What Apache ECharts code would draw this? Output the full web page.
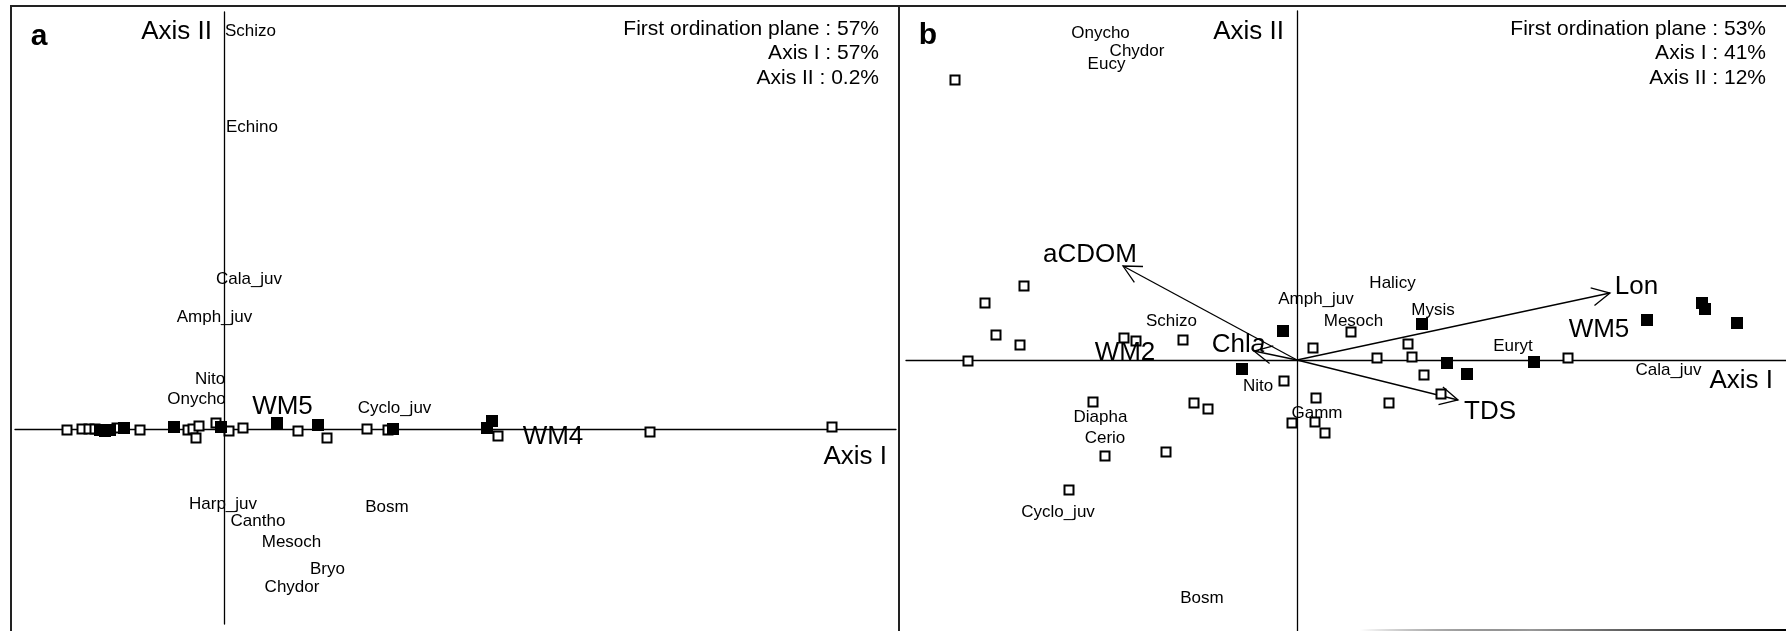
<!DOCTYPE html>
<html><head><meta charset="utf-8">
<script src="https://cdn.jsdelivr.net/npm/echarts@6/dist/echarts.min.js"></script>
<style>html,body{margin:0;padding:0;background:#fff}#c{width:1786px;height:631px}</style>
</head><body><div id="c"></div>
<script>
// ---------- Panel a (CA scores) ----------
const aOpen = [[-1.57,-0.01],[-1.42,0.00],[-1.35,0.00],[-1.29,0.00],[-1.07,0.01],[-0.84,-0.01],[-0.36,-0.01],[-0.31,0.00],[-0.25,0.03],[-0.28,-0.09],[-0.08,0.06],[0.05,-0.02],[0.19,0.01],[0.74,-0.02],[1.03,-0.09],[1.43,0.00],[1.64,-0.01],[2.74,-0.07],[4.26,-0.03],[6.08,0.02]];
const aFilled = [[-1.24,-0.01],[-1.19,-0.02],[-1.14,-0.01],[-1.00,0.01],[-0.50,0.02],[-0.03,0.02],[0.53,0.06],[0.94,0.04],[1.69,0.00],[2.63,0.01],[2.68,0.08]];
const aSpecies = ['Schizo','Echino','Cala_juv','Amph_juv','Nito','Onycho','Cyclo_juv','Harp_juv','Cantho','Mesoch','Bryo','Chydor','Bosm'];
const aSpeciesXY = [[0.265,3.98],[0.28,3.02],[0.25,1.50],[-0.095,1.12],[-0.14,0.50],[-0.275,0.30],[1.705,0.21],[-0.01,-0.75],[0.34,-0.92],[0.675,-1.13],[1.035,-1.40],[0.68,-1.58],[1.63,-0.78]];
const aGroups = ['WM5','WM4'];
const aGroupsXY = [[0.585,0.22],[3.29,-0.08]];
const aInfo = ['First ordination plane : 57%','Axis I : 57%','Axis II : 0.2%'];

// ---------- Panel b (CCA scores) ----------
const bOpen = [[-3.42,2.80],[-2.73,0.74],[-3.12,0.57],[-3.01,0.25],[-2.77,0.15],[-3.29,-0.01],[-1.73,0.22],[-1.61,0.19],[-1.14,0.20],[-2.04,-0.42],[-1.92,-0.96],[-1.03,-0.43],[-0.89,-0.49],[-1.31,-0.92],[-2.28,-1.30],[-0.13,-0.21],[0.19,-0.38],[-0.05,-0.63],[0.18,-0.62],[0.28,-0.73],[0.16,0.12],[0.54,0.28],[0.80,0.02],[1.11,0.16],[1.15,0.03],[1.27,-0.15],[0.92,-0.43],[1.44,-0.34],[2.71,0.02]];
const bFilled = [[-0.14,0.29],[-0.55,-0.09],[1.25,0.36],[1.50,-0.03],[1.70,-0.14],[2.37,-0.02],[3.50,0.40],[4.05,0.57],[4.08,0.51],[4.40,0.37]];
const bSpecies = ['Onycho','Chydor','Eucy','Schizo','Nito','Diapha','Cerio','Cyclo_juv','Bosm','Amph_juv','Halicy','Mesoch','Mysis','Gamm','Euryt','Cala_juv'];
const bSpeciesXY = [[-1.965,3.27],[-1.60,3.09],[-1.905,2.96],[-1.255,0.39],[-0.39,-0.26],[-1.965,-0.57],[-1.92,-0.78],[-2.39,-1.52],[-0.95,-2.38],[0.19,0.61],[0.955,0.77],[0.565,0.39],[1.36,0.50],[0.20,-0.53],[2.16,0.14],[3.715,-0.10]];
const bGroups = ['WM2','WM5'];
const bGroupsXY = [[-1.72,0.07],[3.02,0.30]];
const bVars = ['aCDOM','Chla','Lon','TDS'];
const bVarsXY = [[-1.74,0.94],[-0.43,0.09],[3.13,0.67],[1.61,-0.40]];
const bVarLabelXY = [[-2.07,1.05],[-0.585,0.15],[3.395,0.73],[1.93,-0.52]];
const bInfo = ['First ordination plane : 53%','Axis I : 41%','Axis II : 12%'];

const FONT = '"Liberation Sans", Arial, Helvetica, sans-serif';
const chart = echarts.init(document.getElementById('c'), null, {renderer:'canvas'});

function axisX(gi, min, max, name, gap, padTop){
  return {gridIndex:gi, type:'value', min:min, max:max, splitLine:{show:false},
    axisTick:{show:false}, axisLabel:{show:false},
    axisLine:{show:true, onZero:true, lineStyle:{color:'#000', width:1.3}},
    name:name, nameLocation:'end', nameGap:gap,
    nameTextStyle:{fontFamily:FONT, fontSize:26, color:'#000', align:'right', verticalAlign:'top', padding:[padTop,0,0,0]}};
}
function axisY(gi, min, max, name, gap, padRight){
  return {gridIndex:gi, type:'value', min:min, max:max, splitLine:{show:false},
    axisTick:{show:false}, axisLabel:{show:false},
    axisLine:{show:true, onZero:true, lineStyle:{color:'#000', width:1.3}},
    name:name, nameLocation:'end', nameGap:gap,
    nameTextStyle:{fontFamily:FONT, fontSize:26, color:'#000', align:'right', verticalAlign:'middle', padding:[0,padRight,0,0]}};
}
function squares(gi, data, filled){
  return {type:'scatter', xAxisIndex:gi, yAxisIndex:gi, data:data, symbol:'rect',
    symbolSize: filled ? 12 : 9, z: filled ? 4 : 3,
    itemStyle: filled ? {color:'#000', opacity:1} : {color:'#fff', borderColor:'#000', borderWidth:2, opacity:1},
    silent:true};
}
function labels(gi, names, xy, size){
  return {type:'scatter', xAxisIndex:gi, yAxisIndex:gi, symbol:'circle', symbolSize:1, z:5,
    itemStyle:{color:'rgba(0,0,0,0)', opacity:1},
    data: names.map((n,i)=>({name:n, value:xy[i]})),
    label:{show:true, position:'inside', color:'#000', opacity:1, fontFamily:FONT, fontSize:size,
      formatter: p => (p.name === 'Chla' ? '{n|Chl}{i|a}' : p.name),
      rich: {n:{fontFamily:FONT, fontSize:size, color:'#000'}, i:{fontFamily:FONT, fontSize:size, fontStyle:'italic', color:'#000'}}},
    silent:true};
}

const arrowSeries = {
  type:'custom', xAxisIndex:1, yAxisIndex:1, z:2, data:bVarsXY,
  renderItem(params, api){
    const o = api.coord([0,0]);
    const t = api.coord([api.value(0), api.value(1)]);
    const dx = o[0]-t[0], dy = o[1]-t[1];
    const L = Math.hypot(dx,dy), ux = dx/L, uy = dy/L;
    const len = 20, ang = 27*Math.PI/180, c = Math.cos(ang), s = Math.sin(ang);
    const h1 = [t[0]+len*(ux*c - uy*s), t[1]+len*(ux*s + uy*c)];
    const h2 = [t[0]+len*(ux*c + uy*s), t[1]+len*(-ux*s + uy*c)];
    return {type:'group', children:[
      {type:'line', shape:{x1:o[0],y1:o[1],x2:t[0],y2:t[1]}, style:{stroke:'#000', lineWidth:1.3}},
      {type:'polyline', shape:{points:[h1,t,h2]}, style:{stroke:'#000', fill:null, lineWidth:1.3}}
    ]};
  }
};

function infoText(lines, right){
  return lines.map((t,i)=>({type:'text', z:10, x:right, y:29+i*24.5,
    style:{text:t, fontFamily:FONT, fontSize:21, fill:'#000', align:'right', verticalAlign:'middle'}}));
}

const option = {
  animation:false,
  backgroundColor:'#fff',
  grid:[{left:15, top:12, width:881, height:612}, {left:906, top:11, width:880, height:620}],
  xAxis:[axisX(0,-2.09,6.72,'Axis I',-9,15), axisX(1,-3.91,4.89,'Axis I',-13,8)],
  yAxis:[axisY(0,-1.95,4.17,'Axis II',-20,12), axisY(1,-2.71,3.49,'Axis II',-21,13)],
  series:[
    squares(0, aOpen, false), squares(0, aFilled, true),
    labels(0, aSpecies, aSpeciesXY, 17), labels(0, aGroups, aGroupsXY, 26),
    arrowSeries,
    squares(1, bOpen, false), squares(1, bFilled, true),
    labels(1, bSpecies, bSpeciesXY, 17), labels(1, bGroups, bGroupsXY, 26),
    labels(1, bVars, bVarLabelXY, 26)
  ],
  graphic:[
    {type:'polyline', z:10, shape:{points:[[11,631],[11,6],[1786,6]]}, style:{stroke:'#222', lineWidth:2, fill:null}},
    {type:'line', z:10, shape:{x1:899,y1:6,x2:899,y2:631}, style:{stroke:'#222', lineWidth:2}},
    {type:'line', z:10, shape:{x1:1360,y1:630,x2:1786,y2:630}, style:{lineWidth:2,
      stroke:{type:'linear', x:1360, y:0, x2:1786, y2:0, global:true,
        colorStops:[{offset:0,color:'rgba(0,0,0,0)'},{offset:0.4,color:'#999'},{offset:1,color:'#000'}]}}},
    {type:'text', z:10, x:39, y:37, style:{text:'a', fontFamily:FONT, fontSize:30, fontWeight:'bold', fill:'#000', align:'center', verticalAlign:'middle'}},
    {type:'text', z:10, x:928, y:36, style:{text:'b', fontFamily:FONT, fontSize:30, fontWeight:'bold', fill:'#000', align:'center', verticalAlign:'middle'}}
  ].concat(infoText(aInfo, 879), infoText(bInfo, 1766))
};
chart.setOption(option);
</script></body></html>
